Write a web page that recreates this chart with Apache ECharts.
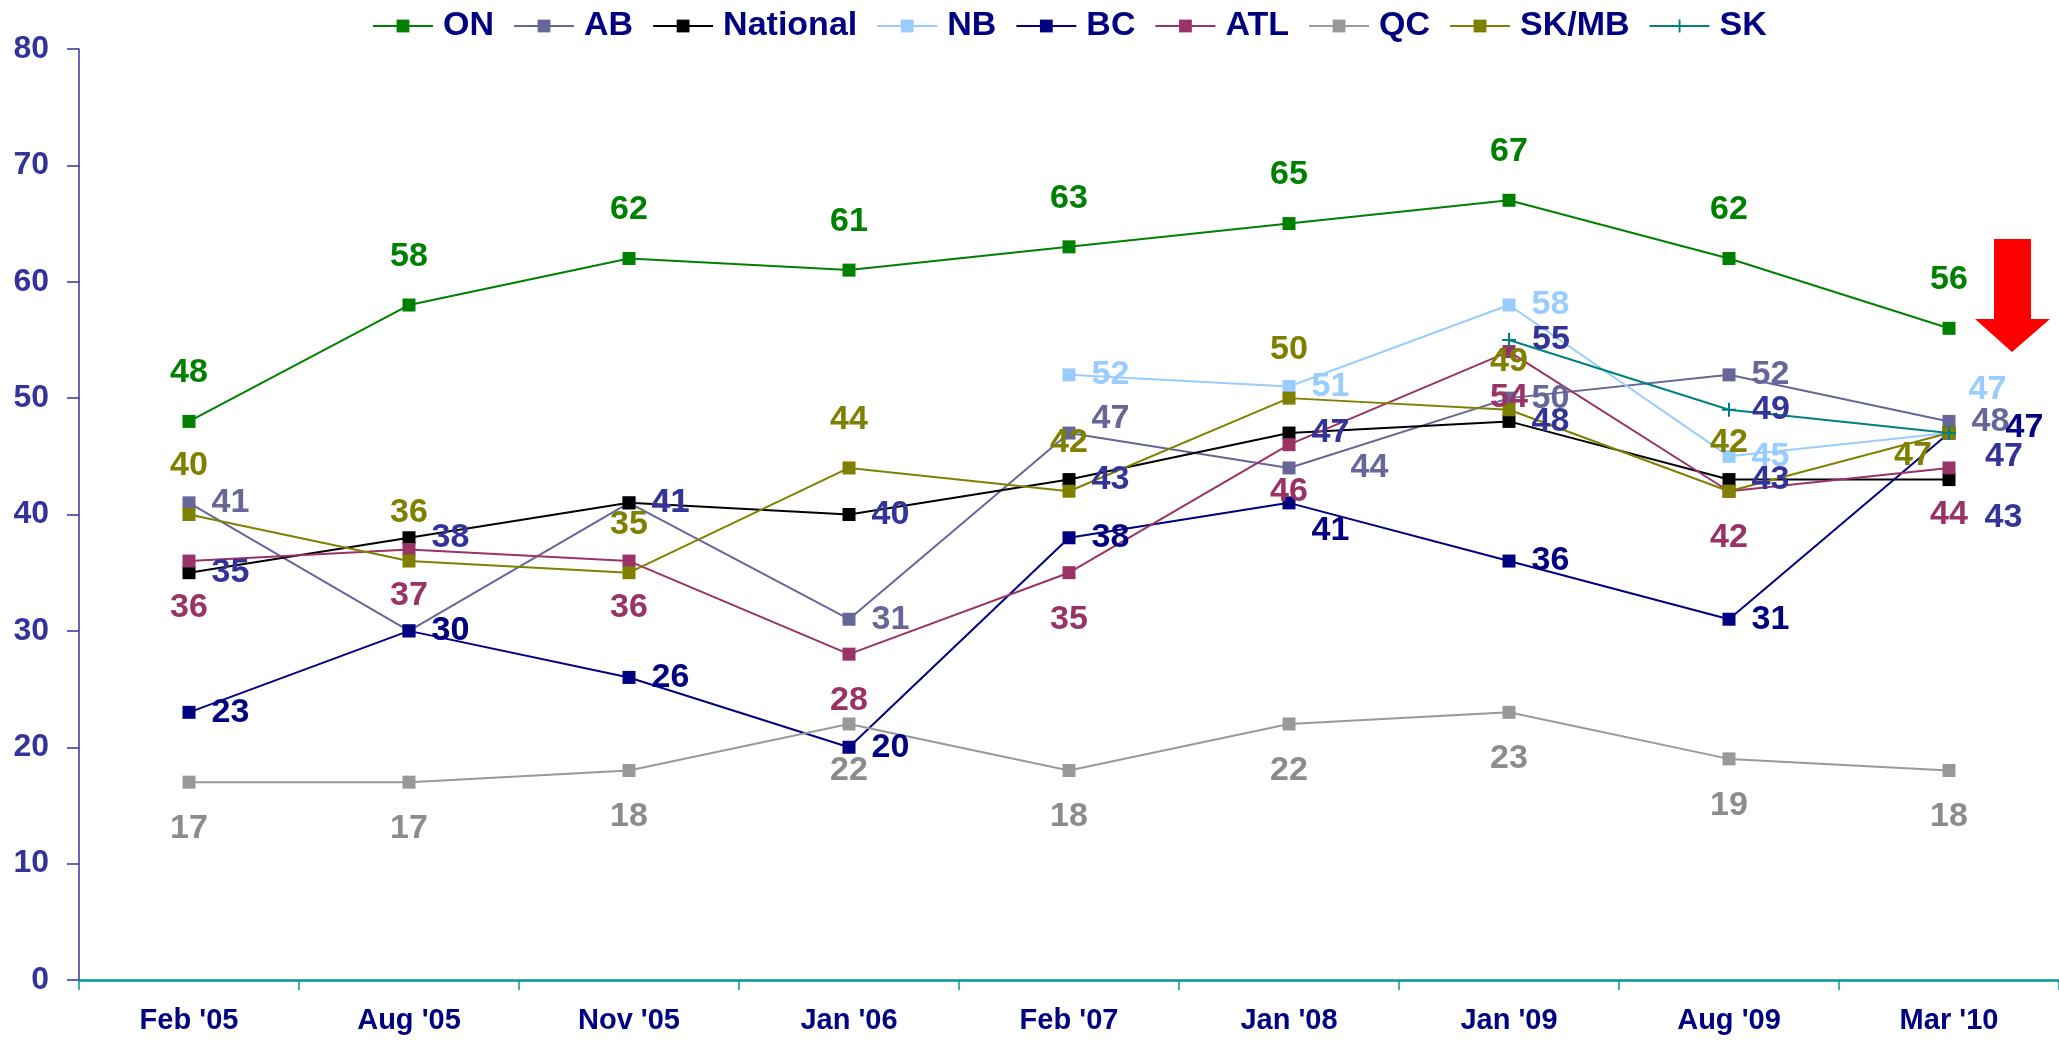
<!DOCTYPE html>
<html>
<head>
<meta charset="utf-8">
<title>Trend by region</title>
<script src="https://cdn.jsdelivr.net/npm/echarts@6/dist/echarts.min.js"></script>
<style>
  html, body { margin: 0; padding: 0; background: #fff; }
  #chart { width: 2059px; height: 1040px; }
</style>
</head>
<body>
<div id="chart"></div>
<script>
// categories and values
const categories = ["Feb '05", "Aug '05", "Nov '05", "Jan '06", "Feb '07", "Jan '08", "Jan '09", "Aug '09", "Mar '10"];
const yTicks = [0, 10, 20, 30, 40, 50, 60, 70, 80];

const onValues       = [48, 58, 62, 61, 63, 65, 67, 62, 56];
const abValues       = [41, 30, 41, 31, 47, 44, 50, 52, 48];
const nationalValues = [35, 38, 41, 40, 43, 47, 48, 43, 43];
const nbValues       = [null, null, null, null, 52, 51, 58, 45, 47];
const bcValues       = [23, 30, 26, 20, 38, 41, 36, 31, 47];
const atlValues      = [36, 37, 36, 28, 35, 46, 54, 42, 44];
const qcValues       = [17, 17, 18, 22, 18, 22, 23, 19, 18];
const skmbValues     = [40, 36, 35, 44, 42, 50, 49, 42, 47];
const skValues       = [null, null, null, null, null, null, 55, 49, 47];

const FONT = "'Liberation Sans', Arial, sans-serif";
const plusIcon = 'path://M6,0h2v6h6v2h-6v6h-2v-6h-6v-2h6z';

// a few labels were moved by hand in the original
const labelTweaks = {
  'AB':       { 4: [0, -14], 5: [39, 0] },
  'National': { 8: [13, 38] },
  'BC':       { 5: [0, 28], 8: [34, -5] },
  'NB':       { 8: [-3, -43] },
  'SK/MB':    { 8: [-36, 71] },
  'SK':       { 8: [13, 24] }
};

function makeSeries(name, values, color, labelColor, labelPos, symbol) {
  const tweaks = labelTweaks[name] || {};
  const data = values.map((v, i) => {
    if (tweaks[i]) return { value: v, label: { offset: tweaks[i] } };
    return v;
  });
  return {
    name: name,
    type: 'line',
    data: data,
    symbol: symbol || 'rect',
    symbolSize: symbol ? 14 : 13,
    showAllSymbol: true,
    lineStyle: { color: color, width: 2 },
    itemStyle: { color: color },
    label: {
      show: true,
      position: labelPos,
      distance: labelPos === 'right' ? 16 : (labelPos === 'top' ? 25 : 23),
      color: labelColor,
      fontFamily: FONT,
      fontWeight: 'bold',
      fontSize: 34
    },
    emphasis: { disabled: true }
  };
}

const chart = echarts.init(document.getElementById('chart'));

const option = {
  backgroundColor: '#ffffff',
  animation: false,
  legend: {
    top: 4,
    left: 367,
    itemWidth: 60,
    itemHeight: 16,
    itemGap: 19,
    textStyle: {
      color: '#000080',
      fontFamily: FONT,
      fontWeight: 'bold',
      fontSize: 34,
      padding: [0, 0, 0, 5]
    }
  },
  grid: {
    left: 79,
    right: 0,
    top: 49,
    bottom: 60,
    outerBoundsMode: 'none'
  },
  xAxis: {
    type: 'category',
    data: categories,
    boundaryGap: true,
    axisLine: { lineStyle: { color: '#009999', width: 2.5 } },
    axisTick: { show: true, length: 10, lineStyle: { color: '#009999', width: 1.5 } },
    axisLabel: {
      color: '#000080',
      fontFamily: FONT,
      fontWeight: 'bold',
      fontSize: 29,
      margin: 26
    },
    splitLine: { show: false }
  },
  yAxis: {
    type: 'value',
    min: yTicks[0],
    max: yTicks[yTicks.length - 1],
    interval: 10,
    axisLine: { show: true, lineStyle: { color: '#333399', width: 1.5 } },
    axisTick: { show: true, length: 12, lineStyle: { color: '#333399', width: 1.5 } },
    axisLabel: {
      color: '#333399',
      fontFamily: FONT,
      fontWeight: 'bold',
      fontSize: 32,
      margin: 30
    },
    splitLine: { show: false }
  },
  series: [
    makeSeries('ON', onValues, '#008000', '#008000', 'top'),
    makeSeries('AB', abValues, '#666699', '#666699', 'right'),
    makeSeries('National', nationalValues, '#000000', '#333399', 'right'),
    makeSeries('NB', nbValues, '#99CCFF', '#99CCFF', 'right'),
    makeSeries('BC', bcValues, '#000080', '#000080', 'right'),
    makeSeries('ATL', atlValues, '#993366', '#993366', 'bottom'),
    makeSeries('QC', qcValues, '#999999', '#8c8c8c', 'bottom'),
    makeSeries('SK/MB', skmbValues, '#808000', '#808000', 'top'),
    makeSeries('SK', skValues, '#008080', '#333399', 'right', plusIcon)
  ],
  graphic: [
    {
      // red down arrow next to the last point
      type: 'polygon',
      shape: {
        points: [[1994, 239], [2031, 239], [2031, 319], [2050, 319], [2012, 352], [1975, 319], [1994, 319]]
      },
      style: { fill: '#FF0000' },
      z: 100
    }
  ]
};

chart.setOption(option);
</script>
</body>
</html>
